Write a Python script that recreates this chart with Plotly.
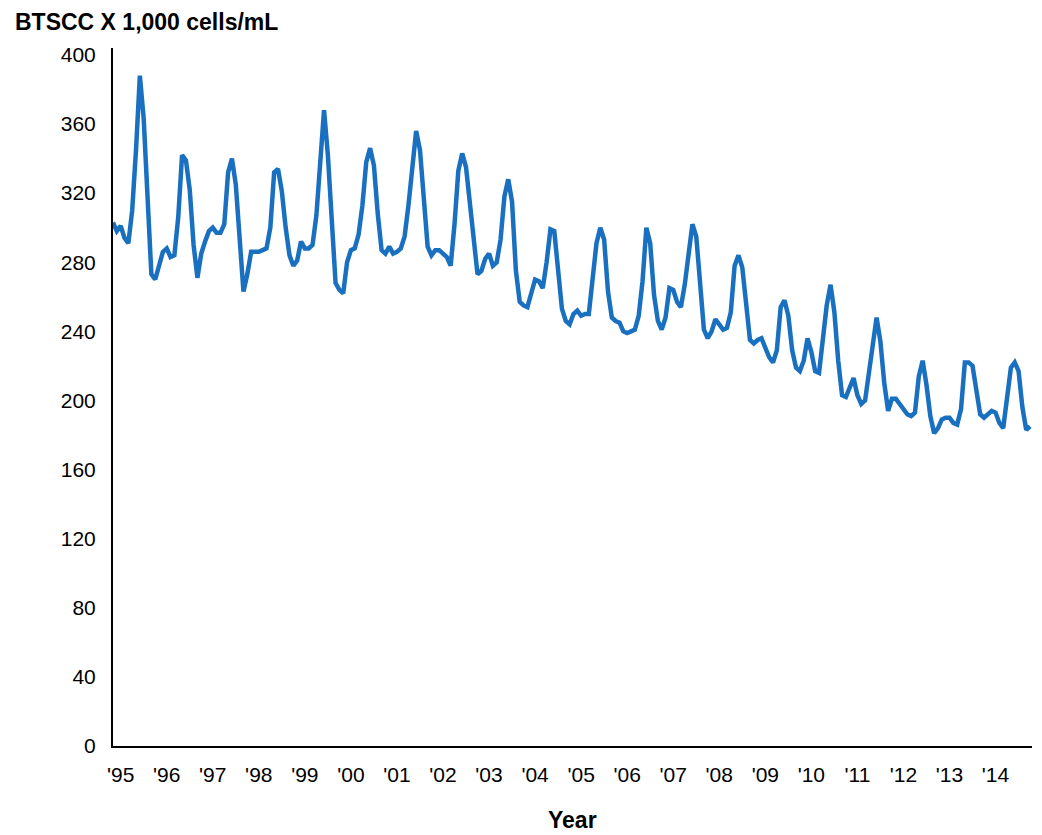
import plotly.graph_objects as go

# monthly bulk tank somatic cell count, Jan 1995 - Dec 2014 (x 1,000 cells/mL)
btscc = [
    303, 298, 301, 294, 291, 310, 345, 388, 363, 318, 273, 270,  # 1995
    278, 286, 288, 283, 284, 306, 342, 339, 322, 290, 271, 285,  # 1996
    292, 298, 300, 297, 297, 302, 332, 340, 325, 295, 263, 273,  # 1997
    286, 286, 286, 287, 288, 300, 332, 334, 321, 300, 284, 278,  # 1998
    281, 292, 288, 288, 290, 307, 340, 368, 342, 300, 268, 264,  # 1999
    262, 280, 287, 288, 296, 313, 338, 346, 336, 308, 287, 285,  # 2000
    289, 285, 286, 288, 295, 313, 338, 356, 345, 318, 289, 284,  # 2001
    287, 287, 285, 283, 278, 302, 333, 343, 335, 314, 289, 273,  # 2002
    275, 282, 285, 278, 280, 293, 318, 328, 315, 275, 257, 255,  # 2003
    254, 262, 270, 269, 265, 280, 299, 298, 273, 253, 246, 244,  # 2004
    250, 252, 249, 250, 250, 271, 291, 300, 293, 263, 248, 246,  # 2005
    245, 240, 239, 240, 241, 249, 269, 300, 291, 261, 246, 241,  # 2006
    248, 265, 264, 257, 254, 267, 285, 302, 295, 269, 241, 236,  # 2007
    240, 247, 244, 241, 242, 251, 278, 284, 277, 254, 235, 233,  # 2008
    235, 236, 231, 225, 222, 229, 254, 258, 249, 229, 219, 217,  # 2009
    223, 236, 228, 217, 216, 237, 255, 267, 251, 223, 203, 202,  # 2010
    207, 213, 203, 198, 200, 215, 234, 248, 234, 210, 194, 201,  # 2011
    201, 198, 196, 192, 191, 193, 214, 223, 209, 191, 181, 184,  # 2012
    189, 190, 190, 187, 186, 195, 222, 222, 220, 206, 192, 190,  # 2013
    192, 194, 193, 187, 184, 204, 219, 222, 217, 196, 183, 185,  # 2014
]
years = list(range(1995, 2015))
year_labels = ["'95", "'96", "'97", "'98", "'99", "'00", "'01", "'02", "'03", "'04",
               "'05", "'06", "'07", "'08", "'09", "'10", "'11", "'12", "'13", "'14"]
y_ticks = [0, 40, 80, 120, 160, 200, 240, 280, 320, 360, 400]

months = list(range(len(btscc)))
tick_pos = [(y - years[0]) * 12 + 2 for y in years]

# page body adds an 8px offset, so the figure is drawn 8px smaller
fig = go.Figure()
fig.add_trace(go.Scatter(
    x=months, y=btscc, mode='lines',
    line=dict(color='#1a70c0', width=4.5),
    hoverinfo='skip', showlegend=False,
))

fig.update_xaxes(
    range=[0, len(btscc) - 0.5],
    tickmode='array', tickvals=tick_pos, ticktext=year_labels,
    showline=True, linecolor='black', linewidth=2,
    showgrid=False, zeroline=False, ticks='',
    ticklabelstandoff=9,
    tickfont=dict(size=21, color='black'),
)
fig.update_yaxes(
    range=[0, 404],
    tickmode='array', tickvals=y_ticks,
    showline=True, linecolor='black', linewidth=2,
    showgrid=False, zeroline=False, ticks='',
    ticklabelstandoff=11,
    tickfont=dict(size=21, color='black'),
)

fig.update_layout(
    width=1034, height=827,
    margin=dict(l=105, r=10, t=40, b=89, autoexpand=False),
    plot_bgcolor='white', paper_bgcolor='white',
    font_family='Liberation Sans, Arial, sans-serif',
    annotations=[
        dict(text='<b>BTSCC X 1,000 cells/mL</b>', xref='paper', yref='paper',
             x=-99 / 919, y=1 + 40 / 698, xanchor='left', yanchor='top',
             borderpad=0, showarrow=False, font=dict(size=23, color='black')),
        dict(text='<b>Year</b>', xref='paper', yref='paper',
             x=0.5, y=-74 / 698, xanchor='center', yanchor='middle',
             showarrow=False, font=dict(size=23, color='black')),
    ],
)

fig.write_html("out.html")
